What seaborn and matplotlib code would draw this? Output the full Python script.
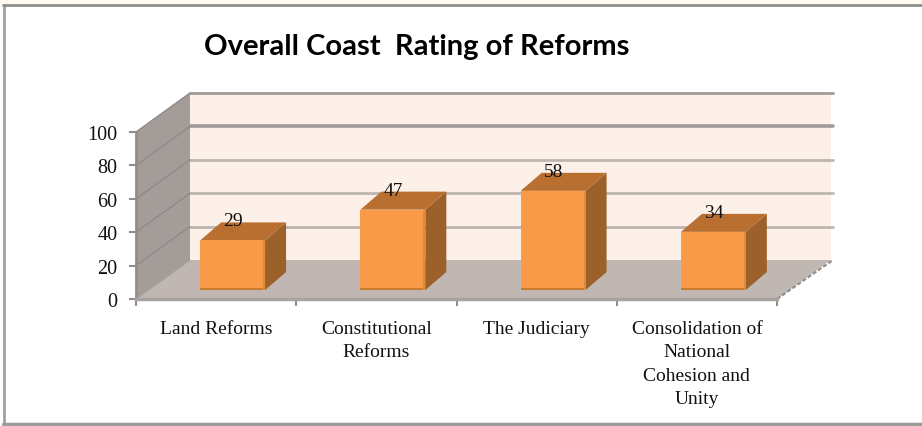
import matplotlib
matplotlib.use("Agg")
import matplotlib.pyplot as plt
import seaborn as sns
import pandas as pd
from matplotlib.patches import Polygon, Rectangle
from matplotlib.transforms import Affine2D, IdentityTransform

categories = ["Land Reforms", "Constitutional\nReforms", "The Judiciary",
              "Consolidation of\nNational\nCohesion and\nUnity"]
ratings = [29, 47, 58, 34]
y_ticks = [0, 20, 40, 60, 80, 100]
title = "Overall Coast  Rating of Reforms"

W, H = 922, 427
DEPTH = (54, 39)       # back wall offset from the front plane, px
BAR_DEPTH = (21, 18)   # bar depth, px


def px_axes(fig, x0, x1, y_top, y_bottom):
    return fig.add_axes([x0 / W, 1 - y_bottom / H, (x1 - x0) / W, (y_bottom - y_top) / H])


sns.set_theme(style="white")
plt.rcParams["font.family"] = ["Liberation Serif", "DejaVu Serif"]

fig = plt.figure(figsize=(W / 100, H / 100), dpi=100, facecolor="white")

# page band + chart frame
fig.add_artist(Rectangle((0, 1 - 5 / H), 1, 5 / H, transform=fig.transFigure, color="#FFF9F0", lw=0))
fig.add_artist(plt.Line2D([3.5 / W, 3.5 / W], [1 - 6 / H, 1 - 425 / H], color="#A3A09B", lw=2))
fig.add_artist(plt.Line2D([3 / W, 1], [1 - 6 / H, 1 - 6 / H], color="#8F8F8F", lw=2))
fig.add_artist(plt.Line2D([3 / W, 1], [1 - 425 / H, 1 - 425 / H], color="#9B9B9B", lw=2.5))

# front plane of the chart
ax = px_axes(fig, 136, 777, 133, 300)
ax.set_xlim(-0.5, 3.5)
ax.set_ylim(0, 100)
ax.patch.set_visible(False)
back = ax.transData + Affine2D().translate(*DEPTH)

# walls in data coords, pushed back by DEPTH
ax.add_patch(Polygon([(-0.5, 0), (3.5, 0), (3.5, 100), (-0.5, 100)], transform=back,
                     fc="#FDF0E9", ec="none", clip_on=False, zorder=1))
p0 = ax.transData.transform([(-0.5, 0), (3.5, 0)])
p1 = back.transform([(3.5, 0), (-0.5, 0)])
ax.add_patch(Polygon([*p0, *p1], transform=IdentityTransform(), fc="#C0B6B2", ec="none",
                     clip_on=False, zorder=1.5))
p2 = ax.transData.transform([(-0.5, 0), (-0.5, 100)])
p3 = back.transform([(-0.5, 100), (-0.5, 0)])
ax.add_patch(Polygon([*p2, *p3], transform=IdentityTransform(), fc="#A49C98", ec="none",
                     clip_on=False, zorder=1.5))

# gridlines: along the side wall and the back wall
for v in y_ticks:
    a = ax.transData.transform((-0.5, v))
    b = back.transform((-0.5, v))
    c = back.transform((3.5, v))
    dark = v in (80, 100)
    if v > 0:
        ax.add_line(plt.Line2D([b[0], c[0] + 2], [b[1], c[1]], transform=IdentityTransform(),
                               color="#A09B97" if dark else "#BDB5B0", lw=2.6 if v == 80 else 2,
                               clip_on=False, zorder=2))
        ax.add_line(plt.Line2D([a[0], b[0]], [a[1], b[1]], transform=IdentityTransform(),
                               color="#8F8A87", lw=1, clip_on=False, zorder=2))
    else:
        d = ax.transData.transform((3.5, 0))
        ax.add_line(plt.Line2D([d[0], c[0] + 2], [d[1], c[1]], transform=IdentityTransform(),
                               color="#8E8E8E", lw=1.5, ls=(0, (2, 1)), clip_on=False, zorder=2))
        ax.add_line(plt.Line2D([a[0], b[0]], [a[1], b[1]], transform=IdentityTransform(),
                               color="#A8A09C", lw=1, clip_on=False, zorder=2))

ax.set_yticks(y_ticks)
ax.set_yticklabels([str(v) for v in y_ticks], fontsize=14.5, color="#111111")
for lab in ax.get_yticklabels():
    lab.set_transform(lab.get_transform() + Affine2D().translate(0, -2))
ax.set_xticks([-0.5, 0.5, 1.5, 2.5, 3.5])
ax.set_xticklabels([])
ax.set_xticks(range(len(categories)), categories, minor=True, fontsize=14,
              color="#111111", linespacing=1.5)
ax.tick_params(axis="both", which="major", length=5, width=1.5, color="#8E8E8E", left=True, bottom=True)
ax.tick_params(axis="y", pad=8.5)
ax.tick_params(axis="x", which="minor", length=0, pad=15)
for s in ("top", "right"):
    ax.spines[s].set_visible(False)
ax.spines["left"].set_color("#8E8E8E")
ax.spines["left"].set_linewidth(2)
ax.spines["bottom"].set_color("#A8A2A0")
ax.spines["bottom"].set_linewidth(2.5)
ax.spines["left"].set_zorder(3)
ax.spines["bottom"].set_zorder(3)

# bars sit inside the box, on their own slightly offset plane
bar_ax = px_axes(fig, 152.5, 793.5, 120, 291)
df = pd.DataFrame({"category": categories, "rating": ratings})
sns.barplot(data=df, x="category", y="rating", ax=bar_ax, color="#F99A48", saturation=1,
            width=0.405, linewidth=0, zorder=5)
bar_ax.set_xlim(-0.5, 3.5)
bar_ax.set_ylim(0, 100)
bar_ax.axis("off")

for bar in bar_ax.patches:
    x0, y0 = bar.get_x(), bar.get_y()
    x1, y1 = x0 + bar.get_width(), y0 + bar.get_height()
    (fx0, fy0), (fx1, fy1) = bar_ax.transData.transform([(x0, y0), (x1, y1)])
    dx, dy = BAR_DEPTH
    side = [(fx1, fy0), (fx1 + dx, fy0 + dy), (fx1 + dx, fy1 + dy), (fx1, fy1)]
    top = [(fx0, fy1), (fx0 + dx, fy1 + dy), (fx1 + dx, fy1 + dy), (fx1, fy1)]
    for pts, col in ((side, "#9C602A"), (top, "#B96F30")):
        bar_ax.add_patch(Polygon(pts, transform=IdentityTransform(), fc=col, ec="none",
                                 clip_on=False, zorder=4))
    # darker rim at the foot and right edge of the front face
    bar_ax.add_patch(Rectangle((fx0, fy0), fx1 - fx0, 2.5, transform=IdentityTransform(),
                               fc="#CC7A30", ec="none", clip_on=False, zorder=6))
    bar_ax.add_patch(Rectangle((fx1 - 2, fy0), 2, fy1 - fy0, transform=IdentityTransform(),
                               fc="#E08A3E", ec="none", clip_on=False, zorder=6))

bar_ax.bar_label(bar_ax.containers[0], labels=[str(v) for v in ratings], padding=8,
                 fontsize=14, color="#111111", zorder=7)

fig.text(416.5 / W, 1 - 47 / H, title, ha="center", va="center", fontsize=21,
         fontweight="bold", family=["Lato", "DejaVu Sans"], color="black")

fig.savefig("out.png", dpi=100)
